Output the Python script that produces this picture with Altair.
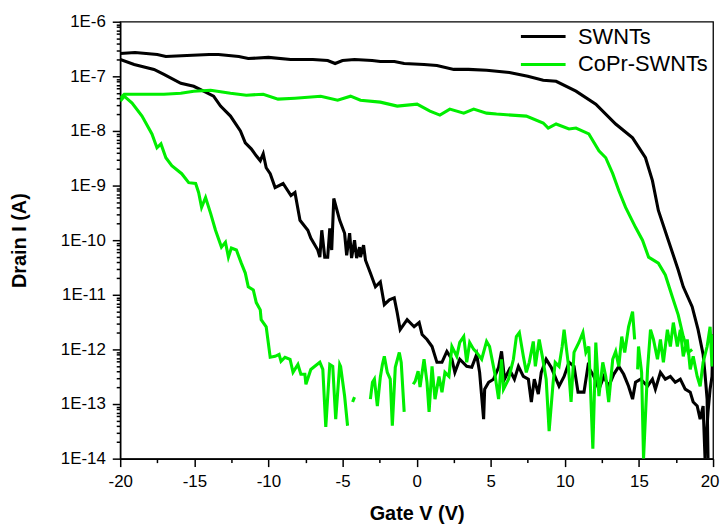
import altair as alt
import pandas as pd

# ---- data (Gate V in volts, Drain I in amperes) ----
MATERIALS = ["SWNTs", "CoPr-SWNTs"]
COLORS = ["#000000", "#00ee00"]

# SWNTs, sweep with high on-current (drops near +15..+20 V)
SWNT_A_V = [-20, -19.0, -17.5, -16.92, -15.5, -14.0, -13.37, -12.0, -11.36, -10.0, -8.5, -7.0,
            -6.0, -5.5, -5.0, -4.19, -3.0, -2.45, -1.5, -0.84, 0.5, 1.37, 2.51, 3.5, 4.72, 6.26,
            7.5, 8.54, 9.41, 10.75, 12.09, 13.43, 14.57, 15.44, 15.91, 16.31, 16.98, 17.65,
            17.99, 18.59, 18.99, 19.33, 19.46, 19.60, 19.66]
SWNT_A_I = [2.62e-7, 2.73e-7, 2.51e-7, 2.31e-7, 2.41e-7, 2.51e-7, 2.51e-7, 2.31e-7, 2.12e-7,
            2.22e-7, 2.04e-7, 2.04e-7, 1.95e-7, 1.72e-7, 1.95e-7, 2.04e-7, 1.95e-7, 1.87e-7,
            1.87e-7, 1.72e-7, 1.65e-7, 1.58e-7, 1.34e-7, 1.34e-7, 1.29e-7, 1.18e-7, 1.0e-7,
            8.46e-8, 8.1e-8, 5.34e-8, 3.10e-8, 1.34e-8, 7.46e-9, 3.23e-9, 1.23e-9, 3.5e-10,
            1.0e-10, 2.85e-11, 1.4e-11, 6.05e-12, 2.3e-12, 8.1e-13, 3.5e-13, 1.23e-13, 1.0e-14]

# SWNTs, sweep that switches off early (noise floor from about +1 V)
SWNT_B_V = [-20, -19.06, -17.72, -17.05, -15.91, -15.04, -14.37, -13.70, -13.23, -12.56, -11.89,
            -11.56, -11.16, -10.82, -10.55, -10.35, -10.15, -9.88, -9.55, -9.01, -8.48, -8.21,
            -7.87, -7.34, -7.14, -6.67, -6.53, -6.40, -6.20, -6.00, -5.86, -5.73, -5.59, -5.19,
            -4.86, -4.72, -4.52, -4.39, -4.19, -4.05, -3.85, -3.79, -3.58, -3.45, -3.12, -2.78,
            -2.45, -2.18, -1.84, -1.51, -1.31, -1.11, -0.64, -0.17, 0.17, 0.37, 0.70, 1.04, 1.37,
            1.71, 2.04, 2.38, 2.58, 2.91, 3.38, 3.72, 4.05, 4.25, 4.52, 4.59, 4.86, 5.19, 5.53,
            5.73, 5.93, 6.26, 6.60, 6.87, 7.20, 7.54, 7.74, 7.94, 8.21, 8.41, 8.74, 9.08, 9.41,
            9.61, 9.95, 10.28, 10.62, 10.89, 11.29, 11.56, 11.96, 12.30, 12.63, 12.96, 13.30,
            13.64, 13.97, 14.30, 14.57, 14.77, 15.11, 15.58, 15.91, 16.11, 16.45, 16.78, 17.12,
            17.45, 17.79, 18.12, 18.46, 18.66, 18.93, 19.13, 19.33, 19.46, 19.66, 19.80, 19.93,
            20.0]
SWNT_B_I = [2.04e-7, 1.65e-7, 1.34e-7, 1.09e-7, 7.46e-8, 6.58e-8, 5.34e-8, 4.33e-8, 2.85e-8,
            1.87e-8, 1.0e-8, 6.05e-9, 4.71e-9, 3.51e-9, 2.85e-9, 3.82e-9, 2.12e-9, 1.65e-9,
            9.2e-10, 1.09e-9, 6.58e-10, 7.46e-10, 2.31e-10, 1.52e-10, 1.09e-10, 6.6e-11, 4.9e-11,
            1.52e-10, 4.9e-11, 4.9e-11, 1.65e-10, 6.6e-11, 5.8e-10, 2.31e-10, 1.34e-10, 5.3e-11,
            1.34e-10, 4.7e-11, 1.0e-10, 4.7e-11, 7.46e-11, 4.9e-11, 8.1e-11, 4.3e-11, 2.5e-11,
            1.4e-11, 1.72e-11, 6.6e-12, 8.1e-12, 8.8e-12, 4.7e-12, 2.3e-12, 3.5e-12, 2.6e-12,
            3.1e-12, 1.87e-12, 1.52e-12, 1.13e-12, 5.8e-13, 5.8e-13, 9.2e-13, 6.6e-13, 3.8e-13,
            6.6e-13, 4.9e-13, 4.7e-13, 8.1e-13, 3.8e-13, 5.3e-14, 1.87e-13, 2.5e-13, 2.85e-13,
            4.7e-13, 9.2e-13, 2.85e-13, 4.3e-13, 2.85e-13, 4.9e-13, 3.2e-13, 2.85e-13, 1.09e-13,
            2.85e-13, 1.52e-13, 3.8e-13, 6.6e-13, 4.7e-13, 2.85e-13, 2.12e-13, 3.2e-13, 5.8e-13,
            4.9e-13, 1.65e-13, 1.65e-13, 4.9e-13, 3.2e-13, 1.87e-13, 3.2e-13, 2.12e-13, 3.5e-13,
            4.9e-13, 3.5e-13, 2.12e-13, 1.23e-13, 2.5e-13, 2.85e-13, 2.12e-13, 2.85e-13, 1.87e-13,
            3.8e-13, 2.85e-13, 3.2e-13, 2.5e-13, 2.85e-13, 1.87e-13, 1.65e-13, 1.09e-13, 9.2e-14,
            5.3e-14, 9.2e-14, 1.0e-14, 7.2e-14, 1.87e-13, 3.2e-13, 1.87e-12]

# CoPr-SWNTs, sweep with high on-current
COPR_A_V = [-20, -19.73, -19.06, -18.19, -17.05, -15.91, -15.04, -13.9, -12.56, -11.49, -10.35,
            -9.35, -8.21, -6.47, -5.33, -4.46, -3.79, -2.45, -1.31, 0.03, 0.90, 1.57, 2.24, 3.18,
            3.85, 4.72, 5.39, 7.40, 8.54, 8.88, 9.41, 10.28, 10.75, 11.62, 12.30, 12.76, 13.23,
            13.64, 14.10, 14.77, 15.24, 15.65, 16.31, 16.78, 17.25, 17.65, 17.99, 18.32, 18.59]
COPR_A_I = [3.98e-8, 4.71e-8, 4.71e-8, 4.71e-8, 4.71e-8, 4.91e-8, 5.34e-8, 5.56e-8, 4.91e-8,
            4.52e-8, 4.71e-8, 3.82e-8, 3.98e-8, 4.33e-8, 3.66e-8, 4.33e-8, 3.66e-8, 3.37e-8,
            2.85e-8, 3.10e-8, 2.31e-8, 1.95e-8, 2.51e-8, 2.12e-8, 2.51e-8, 2.12e-8, 2.04e-8,
            1.87e-8, 1.40e-8, 1.13e-8, 1.34e-8, 1.09e-8, 1.13e-8, 8.82e-9, 4.33e-9, 3.23e-9,
            1.65e-9, 8.1e-10, 3.98e-10, 1.72e-10, 1.0e-10, 4.9e-11, 3.8e-11, 2.31e-11, 9.2e-12,
            4.3e-12, 1.72e-12, 8.8e-13, 1.0e-12]

# CoPr-SWNTs, sweep that switches off early; None marks a gap in the trace
COPR_B_V = [-20, -19.73, -19.20, -18.53, -17.86, -17.52, -17.25, -16.92, -16.52, -15.85, -15.38,
            -14.91, -14.71, -14.51, -14.24, -13.90, -13.57, -13.17, -12.90, -12.70, -12.50,
            -12.16, -11.83, -11.56, -11.36, -11.02, -10.82, -10.55, -10.49, -10.15, -9.88, -9.55,
            -9.28, -9.15, -8.88, -8.54, -8.34, -8.01, -7.81, -7.54, -7.47, -7.14, -6.87, -6.53,
            -6.33, -6.13, -5.86, -5.66, -5.46, -5.19, -5.13, -4.86, -4.66,
            None, -4.32, -4.19,
            None, -3.12, -2.98, -2.85, -2.65, -2.45, -2.31, -2.18, -1.98, -1.78, -1.64, -1.44,
            -1.17, -1.04, -0.84,
            None, -0.23, -0.10, 0.10, 0.23, 0.50, 0.70, 0.84, 1.04, 1.24, 1.51, 1.71, 1.91, 2.18,
            2.38, 2.71, 2.91, 3.18, 3.38, 3.58, 3.85, 4.05, 4.39, 4.72, 4.92, 5.26, 5.53, 5.73,
            5.86, 6.20, 6.53, 6.73, 6.93, 7.20, 7.40, 7.60, 7.87, 8.01, 8.27, 8.48, 8.74, 8.94,
            9.21, 9.35, 9.61, 9.82, 9.95, 10.22, 10.42, 10.62, 10.95, 11.22, 11.42, 11.62, 11.89,
            12.09, 12.30, 12.56, 12.76, 12.96, 13.23, 13.43, 13.64, 13.84, 14.04, 14.30, 14.57,
            14.71,
            None, 14.91, 14.97, 15.18, 15.31, 15.58, 15.78, 15.98, 16.25, 16.45, 16.65, 16.92,
            17.12, 17.32, 17.59, 17.79, 17.99, 18.26, 18.46, 18.66, 18.93, 19.13, 19.33, 19.60,
            19.80, 19.93, 20.0]
COPR_B_I = [3.51e-8, 4.33e-8, 3.23e-8, 1.87e-8, 8.82e-9, 4.91e-9, 5.8e-9, 3.23e-9, 2.31e-9,
            1.65e-9, 1.13e-9, 1.09e-9, 7.46e-10, 3.98e-10, 6.05e-10, 3.1e-10, 1.52e-10, 7.46e-11,
            9.2e-11, 4.9e-11, 7.2e-11, 6.6e-11, 3.8e-11, 2.5e-11, 1.4e-11, 1.23e-11, 7.2e-12,
            5.3e-12, 3.5e-12, 2.6e-12, 7.2e-13, 7.46e-13, 8.1e-13, 6.05e-13, 7.2e-13, 6.6e-13,
            3.8e-13, 5.3e-13, 3.5e-13, 3.5e-13, 2.3e-13, 4.3e-13, 4.9e-13, 5.8e-13, 4.3e-13,
            3.8e-14, 5.3e-13, 4.9e-13, 5.3e-14, 5.3e-13, 4.9e-13, 1.4e-13, 4.0e-14,
            None, 1.09e-13, 1.34e-13,
            None, 1.23e-13, 2.5e-13, 2.85e-13, 9.2e-14, 3.1e-13, 5.3e-13, 7.46e-13, 3.8e-13,
            2.85e-13, 4.0e-14, 4.7e-13, 8.8e-13, 5.8e-13, 7.2e-14,
            None, 2.3e-13, 2.6e-13, 4.0e-13, 2.04e-13, 6.6e-13, 2.5e-13, 7.2e-14, 4.9e-13,
            1.23e-13, 3.2e-13, 1.65e-13, 3.8e-13, 3.2e-13, 1.13e-12, 7.46e-13, 1.34e-12, 1.72e-12,
            5.8e-13, 1.34e-12, 1.0e-12, 8.8e-13, 6.6e-13, 1.4e-12, 1.13e-12, 3.8e-13, 1.23e-13,
            6.6e-13, 1.87e-13, 2.85e-13, 6.6e-13, 1.72e-12, 2.04e-12, 7.46e-13, 3.8e-13, 5.8e-13,
            1.4e-12, 4.9e-13, 1.52e-12, 7.46e-13, 2.85e-13, 3.2e-14, 2.5e-13, 5.8e-13, 4.9e-13,
            1.13e-12, 2.3e-12, 5.8e-13, 1.09e-13, 8.8e-13, 1.34e-12, 2.04e-12, 8.8e-13, 1.13e-12,
            1.52e-14, 1.34e-12, 1.4e-13, 5.8e-13, 3.2e-13, 1.09e-13, 6.6e-13, 9.2e-13, 4.9e-13,
            1.72e-12, 8.8e-13, 2.6e-12, 4.91e-12, 1.52e-12,
            None, 4.3e-13, 1.13e-12, 3.8e-13, 1.0e-14, 4.3e-13, 2.3e-12, 1.52e-12, 6.6e-13,
            1.52e-12, 5.8e-13, 2.3e-12, 1.13e-12, 3.1e-12, 1.13e-12, 2.3e-12, 7.46e-13, 1.52e-12,
            4.3e-13, 7.46e-13, 3.2e-13, 2.12e-13, 5.8e-13, 1.13e-12, 2.6e-12, 4.9e-13, 1.87e-12]

X_TICKS = [-20, -17.5, -15, -12.5, -10, -7.5, -5, -2.5, 0, 2.5, 5, 7.5, 10, 12.5, 15, 17.5, 20]
Y_DECADES = [1e-14, 1e-13, 1e-12, 1e-11, 1e-10, 1e-9, 1e-8, 1e-7, 1e-6]
Y_MINOR_STEPS = [2, 3, 4, 5, 6, 7, 8, 9]
Y_TICKS = Y_DECADES + [m * d for d in Y_DECADES[:-1] for m in Y_MINOR_STEPS]

# ---- table ----
rows = []


def add(material, name, vs, cs):
    seg = 0
    for v, c in zip(vs, cs):
        if v is None or c is None:
            seg += 1
            continue
        rows.append({"V": v, "I": c, "material": material,
                     "seg": f"{name}-{seg}", "k": len(rows)})


add("SWNTs", "sa", SWNT_A_V, SWNT_A_I)
add("SWNTs", "sb", SWNT_B_V, SWNT_B_I)
add("CoPr-SWNTs", "ca", COPR_A_V, COPR_A_I)
add("CoPr-SWNTs", "cb", COPR_B_V, COPR_B_I)
df = pd.DataFrame(rows)

FONT = "Liberation Sans"
LOG10 = "(log(datum.value)/LN10)"
Y_MAJOR = f"abs({LOG10} - round({LOG10})) < 0.001"
X_LAST = "datum.value == 20"

x_axis = alt.Axis(
    title="Gate V (V)", values=X_TICKS,
    labelExpr="datum.value % 5 == 0 ? '' + datum.value : ''",
    tickSize={"condition": {"test": "datum.value % 5 == 0", "value": 8}, "value": 4},
    labelAlign={"condition": {"test": X_LAST, "value": "right"}, "value": "center"},
    labelOffset={"condition": {"test": X_LAST, "value": 6}, "value": 0},
    labelFlush=False, labelOverlap=False, labelPadding=7,
    titlePadding=14,
)
y_axis = alt.Axis(
    title="Drain I (A)", values=Y_TICKS,
    labelExpr=f"{Y_MAJOR} ? '1E' + round({LOG10}) : ''",
    tickSize={"condition": {"test": Y_MAJOR, "value": 8}, "value": 4},
    labelFlush=False, labelOverlap=False, labelPadding=7,
    titlePadding=31,
)

chart = alt.Chart(df).mark_line(strokeWidth=3.1, clip=True).encode(
    x=alt.X("V:Q", scale=alt.Scale(domain=[-20, 20], nice=False, zero=False), axis=x_axis),
    y=alt.Y("I:Q", scale=alt.Scale(type="log", domain=[1e-14, 1e-6], nice=False), axis=y_axis),
    color=alt.Color(
        "material:N",
        scale=alt.Scale(domain=MATERIALS, range=COLORS),
        legend=alt.Legend(
            orient="none", legendX=415, legendY=4, title=None,
            symbolType="M-2.5,0H2.5", symbolSize=324, symbolStrokeWidth=3,
            labelFontSize=22, labelFont=FONT, labelColor="black", labelOffset=24,
            rowPadding=6, padding=0,
        ),
    ),
    detail="seg:N",
    order="k:Q",
).properties(
    width=597, height=440,
    autosize=alt.AutoSizeParams(type="none"),
    padding={"left": 113, "top": 12, "right": 7, "bottom": 64},
).configure(
    font=FONT,
).configure_view(
    stroke="black", strokeWidth=1.3,
).configure_axis(
    grid=False, domainColor="black", domainWidth=1.5, tickColor="black", tickWidth=1.5,
    labelColor="black", labelFont=FONT, labelFontSize=17,
    titleColor="black", titleFont=FONT, titleFontSize=20, titleFontWeight="bold",
)

chart.save("out.html", embed_options={"renderer": "svg", "actions": False})
